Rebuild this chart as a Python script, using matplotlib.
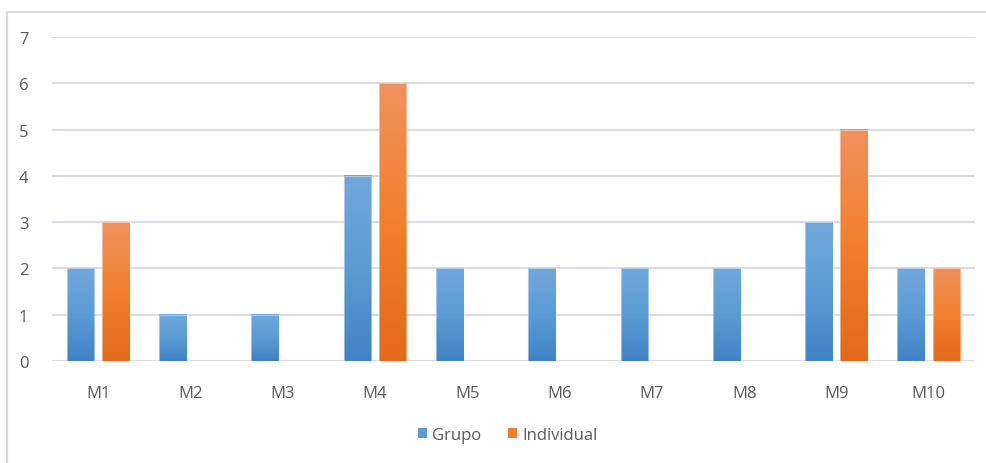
import numpy as np
import matplotlib
matplotlib.use('Agg')
import matplotlib.pyplot as plt
from matplotlib.colors import LinearSegmentedColormap
from matplotlib.patches import Patch, Rectangle
from matplotlib.lines import Line2D

categories = ['M1', 'M2', 'M3', 'M4', 'M5', 'M6', 'M7', 'M8', 'M9', 'M10']
grupo = [2, 1, 1, 4, 2, 2, 2, 2, 3, 2]
individual = [3, 0, 0, 6, 0, 0, 0, 0, 5, 2]
y_ticks = [0, 1, 2, 3, 4, 5, 6, 7]

plt.rcParams['font.family'] = ['Open Sans', 'DejaVu Sans']
TEXT = '#595959'

blue_cmap = LinearSegmentedColormap.from_list('b', ['#3f83c6', '#5b9bd5', '#72a8dc'])
orange_cmap = LinearSegmentedColormap.from_list('o', ['#e2691a', '#f27f2c', '#f0915c'])

fig = plt.figure(figsize=(9.87, 4.64), dpi=100)
ax = fig.add_axes([52 / 987, 102 / 464, 923 / 987, 324 / 464])

# outer chart border (partially visible)
fig.add_artist(Line2D([7 / 987, 7 / 987], [0, 1 - 13 / 464], color='#d9d9d9', lw=1.5,
                      transform=fig.transFigure))
fig.add_artist(Line2D([7 / 987, 1], [1 - 13 / 464, 1 - 13 / 464], color='#d9d9d9', lw=1.5,
                      transform=fig.transFigure))

x = np.arange(len(categories))
width = 0.30
offset = 0.19
grad = np.linspace(0, 1, 256).reshape(-1, 1)


def draw_bar(xc, h, cmap):
    if h <= 0:
        return
    ax.imshow(grad, cmap=cmap, origin='lower', aspect='auto',
              extent=(xc - width / 2, xc + width / 2, 0, h), zorder=3)
    ax.add_patch(Rectangle((xc - width / 2, 0), width, h, fill=False,
                           edgecolor='white', lw=0.6, alpha=0.5, zorder=4))


for i in range(len(categories)):
    draw_bar(x[i] - offset, grupo[i], blue_cmap)
    draw_bar(x[i] + offset, individual[i], orange_cmap)

ax.set_xlim(-0.5, len(categories) - 0.5)
ax.set_ylim(0, 7)
ax.set_yticks(y_ticks)
ax.set_xticks(x)
ax.set_xticklabels(categories)
ax.grid(axis='y', color='#d9dde3', lw=1.5, zorder=0)
for s in ax.spines.values():
    s.set_visible(False)
ax.tick_params(length=0, labelsize=12, colors=TEXT)
ax.tick_params(axis='x', pad=17)
ax.tick_params(axis='y', pad=17)
ax.set_axisbelow(True)

handles = [Patch(facecolor='#5b9bd5', label='Grupo'),
           Patch(facecolor='#ed7d31', label='Individual')]
fig.legend(handles=handles, loc='center', bbox_to_anchor=(508 / 987, 1 - 436 / 464),
           ncol=2, frameon=False, fontsize=12, labelcolor=TEXT,
           handlelength=0.55, handleheight=0.55, handletextpad=0.3, columnspacing=1.6)

fig.savefig('out.png', dpi=100, facecolor='white')
